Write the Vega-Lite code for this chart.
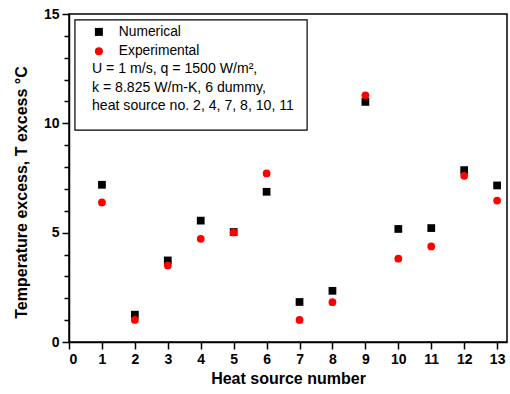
{
  "$schema": "https://vega.github.io/schema/vega-lite/v6.json",
  "width": 438,
  "height": 328,
  "autosize": "none",
  "padding": {"left": 69, "top": 14, "right": 3, "bottom": 52},
  "background": "white",
  "config": {
    "font": "Liberation Sans",
    "view": {"stroke": "black", "strokeWidth": 1.5},
    "axis": {
      "grid": false,
      "domainColor": "black",
      "domainWidth": 1.5,
      "tickColor": "black",
      "tickWidth": 1.5,
      "labelFont": "Liberation Sans",
      "labelFontWeight": "bold",
      "labelFontSize": 14,
      "labelColor": "black",
      "titleFont": "Liberation Sans",
      "titleFontWeight": "bold",
      "titleFontSize": 16,
      "titleColor": "black"
    }
  },
  "layer": [
    {
      "data": {
        "values": [
          {"source": 1, "series": "Numerical", "value": 7.19},
          {"source": 2, "series": "Numerical", "value": 1.25},
          {"source": 3, "series": "Numerical", "value": 3.73},
          {"source": 4, "series": "Numerical", "value": 5.55},
          {"source": 5, "series": "Numerical", "value": 5.03},
          {"source": 6, "series": "Numerical", "value": 6.87},
          {"source": 7, "series": "Numerical", "value": 1.83},
          {"source": 8, "series": "Numerical", "value": 2.34},
          {"source": 9, "series": "Numerical", "value": 10.98},
          {"source": 10, "series": "Numerical", "value": 5.17},
          {"source": 11, "series": "Numerical", "value": 5.21},
          {"source": 12, "series": "Numerical", "value": 7.86},
          {"source": 13, "series": "Numerical", "value": 7.16},
          {"source": 1, "series": "Experimental", "value": 6.38},
          {"source": 2, "series": "Experimental", "value": 1.01},
          {"source": 3, "series": "Experimental", "value": 3.5},
          {"source": 4, "series": "Experimental", "value": 4.72},
          {"source": 5, "series": "Experimental", "value": 5.01},
          {"source": 6, "series": "Experimental", "value": 7.71},
          {"source": 7, "series": "Experimental", "value": 1.01},
          {"source": 8, "series": "Experimental", "value": 1.82},
          {"source": 9, "series": "Experimental", "value": 11.28},
          {"source": 10, "series": "Experimental", "value": 3.81},
          {"source": 11, "series": "Experimental", "value": 4.37},
          {"source": 12, "series": "Experimental", "value": 7.6},
          {"source": 13, "series": "Experimental", "value": 6.47}
        ]
      },
      "mark": {"type": "point", "filled": true, "size": 60, "opacity": 1},
      "encoding": {
        "x": {
          "field": "source",
          "type": "quantitative",
          "scale": {"domain": [0, 13.3], "nice": false, "zero": false},
          "axis": {
            "title": "Heat source number",
            "values": [0,1,2,3,4,5,6,7,8,9,10,11,12,13],
            "tickSize": 7,
            "labelPadding": 3,
            "titlePadding": 4
          }
        },
        "y": {
          "field": "value",
          "type": "quantitative",
          "scale": {"domain": [0, 15], "nice": false},
          "axis": {
            "title": "Temperature excess, T excess °C",
            "values": [0,1,2,3,4,5,6,7,8,9,10,11,12,13,14,15],
            "labelExpr": "datum.value % 5 === 0 ? datum.label : ''",
            "tickSize": {"condition": {"test": "datum.value % 5 === 0", "value": 7}, "value": 5},
            "labelPadding": 3,
            "titlePadding": 14,
            "titleY": 178
          }
        },
        "color": {
          "field": "series",
          "type": "nominal",
          "scale": {"domain": ["Numerical", "Experimental"], "range": ["black", "red"]},
          "legend": {
            "orient": "none",
            "legendX": 23,
            "legendY": 11,
            "title": ["U = 1 m/s, q = 1500 W/m², ", "k = 8.825 W/m-K, 6 dummy,", "heat source no. 2, 4, 7, 8, 10, 11"],
            "titleOrient": "bottom",
            "titleAnchor": "start",
            "titleAlign": "left",
            "titleFontWeight": "normal",
            "titleFontSize": 14.1,
            "titleLineHeight": 18.5,
            "titleColor": "black",
            "titlePadding": 4,
            "titleLimit": 400,
            "labelFontSize": 13.8,
            "labelColor": "black",
            "labelOffset": 13,
            "symbolSize": 64,
            "rowPadding": 4.3,
            "padding": 0
          }
        },
        "shape": {
          "field": "series",
          "type": "nominal",
          "scale": {"domain": ["Numerical", "Experimental"], "range": ["square", "circle"]},
          "legend": {
            "orient": "none",
            "legendX": 23,
            "legendY": 11,
            "title": ["U = 1 m/s, q = 1500 W/m², ", "k = 8.825 W/m-K, 6 dummy,", "heat source no. 2, 4, 7, 8, 10, 11"]
          }
        }
      }
    },
    {
      "data": {"values": [{}]},
      "mark": {"type": "rect", "fill": null, "stroke": "black", "strokeWidth": 1.2},
      "encoding": {
        "x": {
          "datum": 0.18,
          "type": "quantitative",
          "axis": {
            "title": "Heat source number",
            "values": [0,1,2,3,4,5,6,7,8,9,10,11,12,13],
            "tickSize": 7,
            "labelPadding": 3,
            "titlePadding": 4
          }
        },
        "x2": {"datum": 7.23},
        "y": {
          "datum": 14.73,
          "type": "quantitative",
          "axis": {
            "title": "Temperature excess, T excess °C",
            "values": [0,1,2,3,4,5,6,7,8,9,10,11,12,13,14,15],
            "labelExpr": "datum.value % 5 === 0 ? datum.label : ''",
            "tickSize": {"condition": {"test": "datum.value % 5 === 0", "value": 7}, "value": 5},
            "labelPadding": 3,
            "titlePadding": 14,
            "titleY": 178
          }
        },
        "y2": {"datum": 9.69}
      }
    }
  ]
}
